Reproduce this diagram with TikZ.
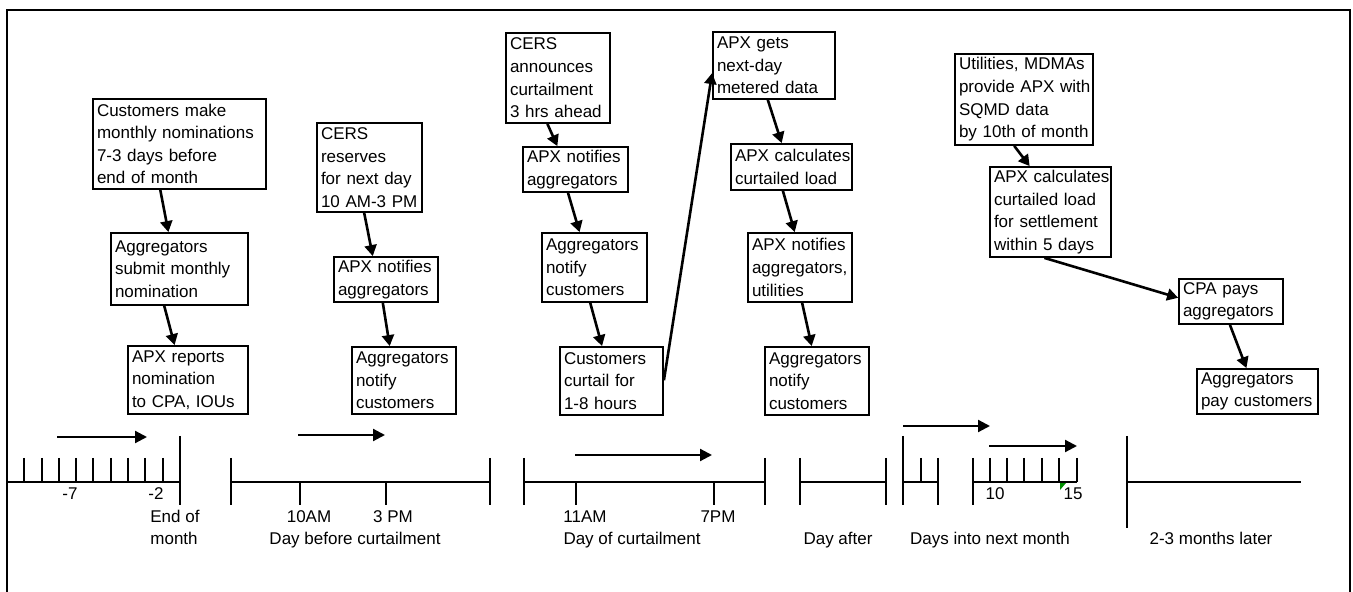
\documentclass[tikz,border=0pt]{standalone}
\usepackage{fontspec}
\setmainfont{Liberation Sans}
\usetikzlibrary{arrows.meta,calc}
\newcommand\boxfont{\fontsize{8.5pt}{11.3pt}\selectfont\hyphenpenalty=10000\exhyphenpenalty=10000\lefthyphenmin=64 }
\tikzset{
  evt/.style={draw, line width=0.9pt, inner xsep=2pt, inner ysep=0pt, align=left, font=\boxfont},
  flow/.style={line width=1.3pt, -{Triangle[length=5.5pt,width=6pt]}},
  axis/.style={line width=1.2pt},
  span/.style={line width=1.1pt, -{Triangle[length=6pt,width=6pt]}},
  lbl/.style={font=\boxfont, inner sep=0pt, anchor=base},
}
\begin{document}
\begin{tikzpicture}[x=0.5pt,y=-0.5pt]
\useasboundingbox (0,0) rectangle (1353,592);
% open frame
\draw[line width=1.1pt] (7,592) -- (7,10) -- (1350,10) -- (1350,592);

% ---- event boxes ----
\node[evt, text width=82.5pt, minimum height=45pt] (A1) at (179.5,144) {Customers~make\\monthly~nominations\\7-3~days~before\\end~of~month};
\node[evt, text width=64.5pt, minimum height=36pt] (A2) at (179.5,269) {Aggregators\\submit~monthly\\nomination};
\node[evt, text width=56pt, minimum height=34pt] (A3) at (188,380) {APX~reports\\nomination\\to~CPA,~IOUs};

\node[evt, text width=48.5pt, minimum height=44.5pt] (B1) at (369.5,167.5) {CERS\\reserves\\for~next~day\\10~AM-3~PM};
\node[evt, text width=48pt, minimum height=22.5pt] (B2) at (386,279.5) {APX~notifies\\aggregators};
\node[evt, text width=48pt, minimum height=33.5pt] (B3) at (404,380.5) {Aggregators\\notify\\customers};

\node[evt, text width=48pt, minimum height=45pt] (C1) at (558,78) {CERS\\announces\\curtailment\\3~hrs~ahead};
\node[evt, text width=48.5pt, minimum height=22.5pt] (C2) at (575.5,169.5) {APX~notifies\\aggregators};
\node[evt, text width=48.5pt, minimum height=34.5pt] (C3) at (594.5,267.5) {Aggregators\\notify\\customers};
\node[evt, text width=47.5pt, minimum height=34pt] (C4) at (611.5,381) {Customers\\curtail~for\\1-8~hours};

\node[evt, text width=57pt, minimum height=33.5pt] (D1) at (774,65.5) {APX~gets\\next-day\\metered~data};
\node[evt, text width=56.5pt, minimum height=23pt] (D2) at (791.5,167) {APX~calculates\\curtailed~load};
\node[evt, text width=48pt, minimum height=34.5pt] (D3) at (800,267.5) {APX~notifies\\aggregators,\\utilities};
\node[evt, text width=48pt, minimum height=34pt] (D4) at (817,381) {Aggregators\\notify\\customers};

\node[evt, text width=65pt, minimum height=45.5pt] (E1) at (1024,99.5) {Utilities,~MDMAs\\provide~APX~with\\SQMD~data\\by~10th~of~month};
\node[evt, text width=56.5pt, minimum height=45pt] (E2) at (1050.5,212) {APX~calculates\\curtailed~load\\for~settlement\\within~5~days};
\node[evt, text width=48pt, minimum height=22.5pt] (E3) at (1231,301.5) {CPA~pays\\aggregators};
\node[evt, text width=56.5pt, minimum height=22.5pt] (E4) at (1257.5,391.5) {Aggregators\\pay~customers};

% ---- flow arrows between boxes ----
\draw[flow] ($(A1.south west)!0.39!(A1.south east)$) -- ($(A2.north west)!0.42!(A2.north east)$);
\draw[flow] ($(A2.south west)!0.39!(A2.south east)$) -- ($(A3.north west)!0.39!(A3.north east)$);
\draw[flow] ($(B1.south west)!0.45!(B1.south east)$) -- ($(B2.north west)!0.375!(B2.north east)$);
\draw[flow] ($(B2.south west)!0.47!(B2.south east)$) -- ($(B3.north west)!0.365!(B3.north east)$);
\draw[flow] ($(C1.south west)!0.40!(C1.south east)$) -- ($(C2.north west)!0.33!(C2.north east)$);
\draw[flow] ($(C2.south west)!0.43!(C2.south east)$) -- ($(C3.north west)!0.36!(C3.north east)$);
\draw[flow] ($(C3.south west)!0.46!(C3.south east)$) -- ($(C4.north west)!0.41!(C4.north east)$);
\draw[flow] ($(C4.north east)!0.49!(C4.south east)$) -- ($(D1.north west)!0.61!(D1.south west)$);
\draw[flow] ($(D1.south west)!0.45!(D1.south east)$) -- ($(D2.north west)!0.42!(D2.north east)$);
\draw[flow] ($(D2.south west)!0.43!(D2.south east)$) -- ($(D3.north west)!0.45!(D3.north east)$);
\draw[flow] ($(D3.south west)!0.52!(D3.south east)$) -- ($(D4.north west)!0.45!(D4.north east)$);
\draw[flow] ($(E1.south west)!0.43!(E1.south east)$) -- ($(E2.north west)!0.33!(E2.north east)$);
\draw[flow] ($(E2.south west)!0.45!(E2.south east)$) -- ($(E3.north west)!0.42!(E3.south west)$);
\draw[flow] ($(E3.south west)!0.49!(E3.south east)$) -- ($(E4.north west)!0.41!(E4.north east)$);

% ---- timeline: end of month ----
\draw[axis] (7,482) -- (180,482);
\foreach \x in {24,42,59,76,93,111,128,145,163} \draw[axis] (\x,458) -- (\x,482);
\draw[axis] (180,436) -- (180,505);
\node[lbl] (m7) at (70,499) {-7};
\node[lbl] (m2) at (156,499) {-2};
\node[lbl, anchor=base west] (eom1) at (150,523) {End of};
\node[lbl, anchor=base west] (eom2) at (150,544) {month};
\coordinate (t1s) at (57,437); \coordinate (t1e) at (147,437);
\draw[span] (t1s) -- (t1e);

% ---- day before curtailment ----
\draw[axis] (231,482) -- (490,482);
\draw[axis] (231,458) -- (231,505);
\draw[axis] (490,458) -- (490,505);
\draw[axis] (300,482) -- (300,505);
\draw[axis] (386,482) -- (386,505);
\node[lbl] (am10) at (309,523) {10AM};
\node[lbl] (pm3) at (393,523) {3 PM};
\node[lbl] (dbc) at (355,544) {Day before curtailment};
\coordinate (t2s) at (298,435); \coordinate (t2e) at (385,435);
\draw[span] (t2s) -- (t2e);

% ---- day of curtailment ----
\draw[axis] (524,482) -- (765,482);
\draw[axis] (524,458) -- (524,505);
\draw[axis] (765,458) -- (765,505);
\draw[axis] (576,482) -- (576,505);
\draw[axis] (714,482) -- (714,505);
\node[lbl] (am11) at (585,523) {11AM};
\node[lbl] (pm7) at (718,523) {7PM};
\node[lbl] (doc) at (632,544) {Day of curtailment};
\coordinate (t3s) at (575,455); \coordinate (t3e) at (712,455);
\draw[span] (t3s) -- (t3e);

% ---- day after ----
\draw[axis] (800,482) -- (886,482);
\draw[axis] (800,458) -- (800,505);
\draw[axis] (886,458) -- (886,505);
\node[lbl] (dafter) at (838,544) {Day after};

% ---- days into next month ----
\draw[axis] (903,436) -- (903,505);
\draw[axis] (903,482) -- (938,482);
\draw[axis] (921,458) -- (921,482);
\draw[axis] (938,458) -- (938,505);
\draw[axis] (973,458) -- (973,505);
\draw[axis] (973,482) -- (1077,482);
\foreach \x in {990,1007,1024,1042,1059,1077} \draw[axis] (\x,458) -- (\x,482);
\fill[green!55!black] (1060,483) -- (1066,483) -- (1060,490) -- cycle;
\node[lbl] (d10) at (995,499) {10};
\node[lbl] (d15) at (1073,499) {15};
\node[lbl] (dinm) at (990,544) {Days into next month};
\coordinate (t4s) at (903,426); \coordinate (t4e) at (990,426);
\draw[span] (t4s) -- (t4e);
\coordinate (t5s) at (989,446); \coordinate (t5e) at (1077,446);
\draw[span] (t5s) -- (t5e);

% ---- 2-3 months later ----
\draw[axis] (1127,436) -- (1127,528);
\draw[axis] (1127,482) -- (1301,482);
\node[lbl] (later) at (1211,544) {2-3 months later};
\end{tikzpicture}
\end{document}
